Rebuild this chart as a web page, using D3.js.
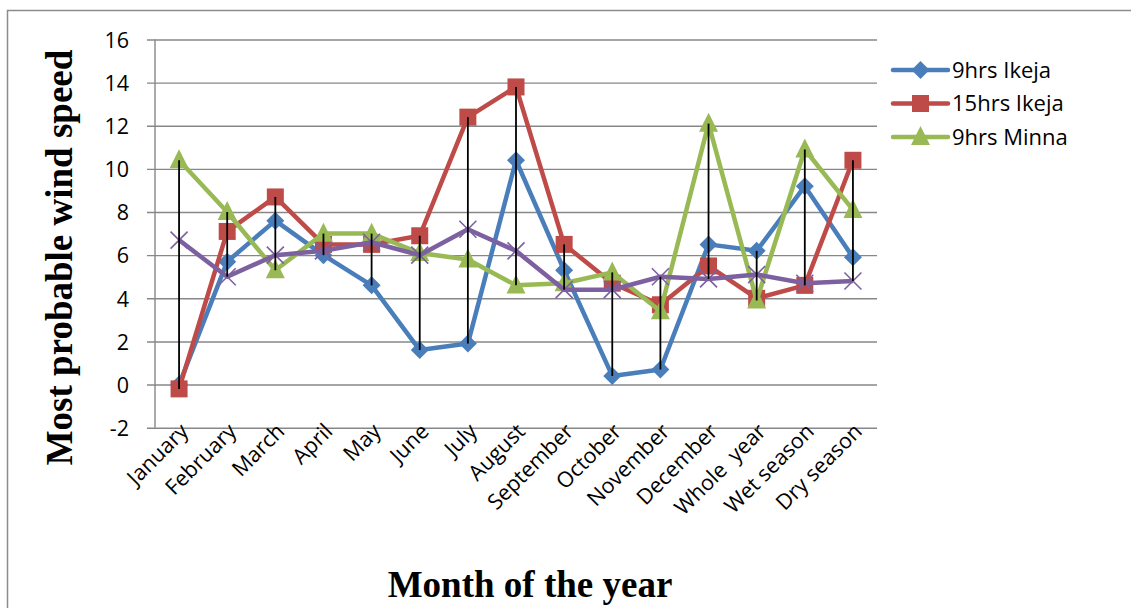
<!DOCTYPE html>
<html>
<head>
<meta charset="utf-8">
<script src="https://cdn.jsdelivr.net/npm/d3@7"></script>
<style>
  html, body { margin: 0; padding: 0; background: #fff; }
  svg { display: block; }
  .tick-label, .legend-label { font-family: "Open Sans", sans-serif; fill: #000; white-space: pre; }
  .axis-title { font-family: "Liberation Serif", "Times New Roman", serif; font-weight: bold; fill: #000; }
</style>
</head>
<body>
<svg id="chart" width="1131" height="608"></svg>
<script>
// Categories along the horizontal axis
const categories = ["January", "February", "March", "April", "May", "June", "July",
  "August", "September", "October", "November", "December", "Whole  year",
  "Wet season", "Dry season"];

// Most probable wind speed per category
const ikeja9  = [0.0, 5.7, 7.6, 6.0, 4.6, 1.6, 1.9, 10.4, 5.3, 0.4, 0.7, 6.5, 6.2, 9.2, 5.9];
const ikeja15 = [-0.2, 7.1, 8.7, 6.5, 6.5, 6.9, 12.4, 13.8, 6.5, 4.7, 3.7, 5.5, 4.0, 4.6, 10.4];
const minna9  = [10.4, 8.0, 5.3, 7.0, 7.0, 6.1, 5.8, 4.6, 4.7, 5.2, 3.4, 12.1, 3.9, 10.9, 8.1];
const minna15 = [6.7, 5.0, 6.0, 6.2, 6.6, 6.0, 7.2, 6.2, 4.4, 4.4, 5.0, 4.9, 5.1, 4.7, 4.8];

// Value axis ticks
const yTicks = [-2, 0, 2, 4, 6, 8, 10, 12, 14, 16];

const legendNames = ["9hrs Ikeja", "15hrs Ikeja", "9hrs Minna"];

const series = [
  { name: legendNames[0], values: ikeja9,  color: "#4a7ebb", marker: "diamond" },
  { name: legendNames[1], values: ikeja15, color: "#be4b48", marker: "square" },
  { name: legendNames[2], values: minna9,  color: "#98b954", marker: "triangle" },
  { name: null,           values: minna15, color: "#7d60a0", marker: "x" }
];

const svg = d3.select("#chart");
const plot = { left: 155, right: 877, top: 39.5, bottom: 427.7 };

const x = d3.scalePoint().domain(categories).range([plot.left, plot.right]).padding(0.5);
const y = d3.scaleLinear().domain([-2, 16]).range([plot.bottom, plot.top]);

// Outer chart frame
svg.append("rect")
  .attr("x", 7.5).attr("y", 10.5).attr("width", 1140).attr("height", 620)
  .attr("fill", "none").attr("stroke", "#8c8c8c").attr("stroke-width", 1.5);

// Horizontal gridlines with left tick stubs
const yAxis = d3.axisLeft(y).tickValues(yTicks).tickSize(-(plot.right - plot.left))
  .tickFormat(d => String(d)).tickPadding(0);
const yG = svg.append("g").attr("transform", `translate(${plot.left},0)`).call(yAxis);
yG.select(".domain").remove();
yG.selectAll(".tick line")
  .attr("x1", -8)
  .attr("stroke", "#878787").attr("stroke-width", 1.4);
yG.selectAll(".tick text")
  .attr("class", "tick-label")
  .attr("x", -26)
  .attr("dy", "0.36em")
  .style("font-size", "21.5px");

// Vertical value axis line
svg.append("line")
  .attr("x1", plot.left).attr("x2", plot.left)
  .attr("y1", plot.top).attr("y2", plot.bottom)
  .attr("stroke", "#878787").attr("stroke-width", 1.4);

// Category labels, rotated
const xAxis = d3.axisBottom(x).tickSize(0).tickPadding(0);
const xG = svg.append("g").attr("transform", `translate(0,${y(-2)})`).call(xAxis);
xG.select(".domain").remove();
xG.selectAll(".tick text")
  .attr("class", "tick-label")
  .style("font-size", "21.5px")
  .attr("text-anchor", "end")
  .attr("dy", null)
  .attr("y", 0)
  .attr("transform", "translate(10,5) rotate(-45)");

// Marker shapes
function markerPath(type, r) {
  switch (type) {
    case "diamond": return `M0,${-r}L${r},0L0,${r}L${-r},0Z`;
    case "square": return `M${-r},${-r}H${r}V${r}H${-r}Z`;
    case "triangle": return `M0,${-r * 1.15}L${r},${r * 0.85}L${-r},${r * 0.85}Z`;
    case "x": return `M${-r},${-r}L${r},${r}M${r},${-r}L${-r},${r}`;
  }
}
const markerSize = { diamond: 9, square: 8.5, triangle: 9.5, x: 8.5 };

const line = d3.line().x((d, i) => x(categories[i])).y(d => y(d));

series.forEach(s => {
  const g = svg.append("g");
  g.append("path")
    .datum(s.values)
    .attr("d", line)
    .attr("fill", "none")
    .attr("stroke", s.color)
    .attr("stroke-width", 4.5)
    .attr("stroke-linejoin", "round");
  g.selectAll("path.marker")
    .data(s.values)
    .join("path")
    .attr("class", "marker")
    .attr("transform", (d, i) => `translate(${x(categories[i])},${y(d)})`)
    .attr("d", markerPath(s.marker, markerSize[s.marker]))
    .attr("fill", s.marker === "x" ? "none" : s.color)
    .attr("stroke", s.color)
    .attr("stroke-width", s.marker === "x" ? 1.6 : 0);
});

// High-low lines spanning every series in each category
const hiLo = categories.map((c, i) => {
  const vals = series.map(s => s.values[i]);
  return { c, hi: d3.max(vals), lo: d3.min(vals) };
});
svg.append("g").selectAll("line")
  .data(hiLo)
  .join("line")
  .attr("x1", d => x(d.c)).attr("x2", d => x(d.c))
  .attr("y1", d => y(d.hi)).attr("y2", d => y(d.lo))
  .attr("stroke", "#000").attr("stroke-width", 1.8);

// Legend
const legend = svg.append("g");
series.filter(s => s.name).forEach((s, i) => {
  const ly = 70 + i * 33.5;
  legend.append("line")
    .attr("x1", 893).attr("x2", 948).attr("y1", ly).attr("y2", ly)
    .attr("stroke", s.color).attr("stroke-width", 4.5).attr("stroke-linecap", "round");
  legend.append("path")
    .attr("transform", `translate(920.5,${ly})`)
    .attr("d", markerPath(s.marker, markerSize[s.marker]))
    .attr("fill", s.color);
  legend.append("text")
    .attr("class", "legend-label")
    .attr("x", 952).attr("y", ly + 7.5)
    .style("font-size", "22px")
    .text(s.name);
});

// Axis titles
svg.append("text")
  .attr("class", "axis-title")
  .attr("transform", `translate(72,257.5) rotate(-90)`)
  .attr("text-anchor", "middle")
  .style("font-size", "37px")
  .text("Most probable wind speed");

svg.append("text")
  .attr("class", "axis-title")
  .attr("x", 530).attr("y", 597)
  .attr("text-anchor", "middle")
  .style("font-size", "37px")
  .text("Month of the year");
</script>
</body>
</html>
